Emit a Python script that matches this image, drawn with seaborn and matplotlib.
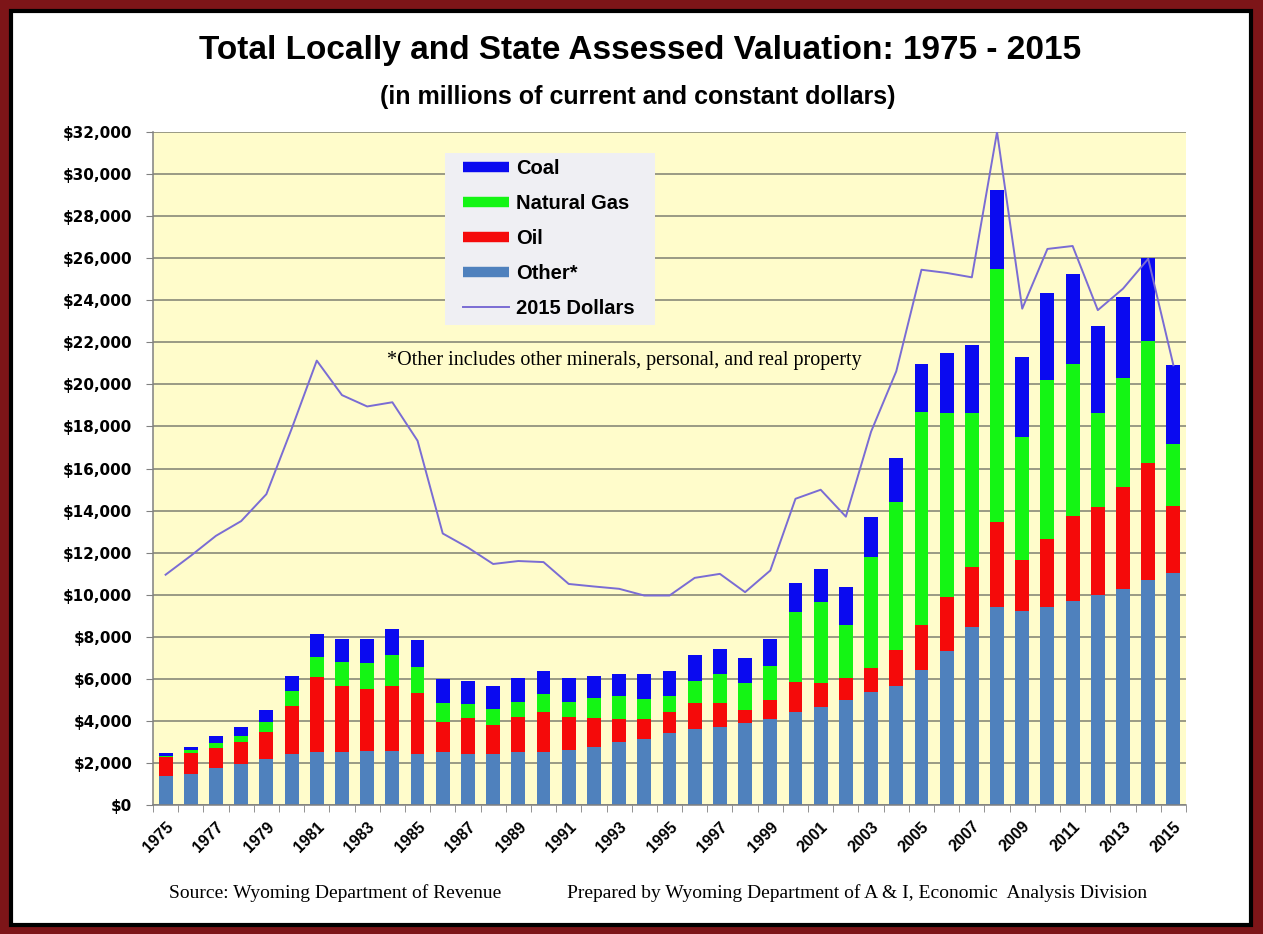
"""
Total locally and state assessed valuation in Wyoming, 1975 - 2015.
Stacked bars by source plus the 2015 constant dollars line.
"""

import matplotlib
matplotlib.use('Agg')

import matplotlib.pyplot as plt
import numpy as np
import pandas as pd
import seaborn as sns
from matplotlib.lines import Line2D
from matplotlib.patches import Rectangle
from matplotlib.ticker import FuncFormatter

# values, millions of dollars
YEARS = list(range(1975, 2016))
OTHER = [1375, 1455, 1755, 1945, 2200, 2435, 2500, 2500, 2560, 2560,
         2435, 2500, 2435, 2435, 2500, 2500, 2610, 2765, 2990, 3115,
         3400, 3605, 3715, 3905, 4110, 4400, 4680, 5000, 5360, 5680,
         6420, 7335, 8460, 9400, 9205, 9400, 9715, 9970, 10280, 10695,
         11040]
OIL = [920, 1040, 965, 1060, 1260, 2290, 3590, 3160, 2940, 3100,
       2875, 1440, 1710, 1390, 1675, 1930, 1565, 1375, 1090, 965,
       1030, 1235, 1120, 600, 900, 1445, 1105, 1060, 1170, 1700,
       2125, 2550, 2870, 4060, 2425, 3250, 4040, 4210, 4850, 5545,
       3190]
NATURAL_GAS = [50, 110, 205, 270, 490, 700, 965, 1140, 1265, 1455,
               1265, 915, 680, 760, 745, 840, 745, 935, 1120, 965,
               775, 1060, 1410, 1310, 1580, 3340, 3890, 2510, 5270, 7015,
               10140, 8760, 7315, 12010, 5870, 7550, 7230, 4465, 5150, 5845,
               2935]
COAL = [150, 160, 350, 410, 555, 725, 1060, 1090, 1120, 1265,
        1250, 1140, 1060, 1075, 1105, 1105, 1105, 1075, 1030, 1185,
        1170, 1235, 1155, 1170, 1280, 1380, 1530, 1785, 1915, 2085,
        2295, 2830, 3230, 3765, 3825, 4145, 4270, 4145, 3880, 3925,
        3745]
DOLLARS_2015 = [10950, 11850, 12800, 13500, 14780, 17880, 21130, 19490, 18950, 19150,
                17320, 12910, 12240, 11460, 11600, 11550, 10510, 10390, 10280, 9960,
                9960, 10800, 10990, 10120, 11150, 14560, 14990, 13710, 17750, 20620,
                25450, 25300, 25090, 32000, 23600, 26440, 26580, 23530, 24550, 25970,
                20910]

SERIES_LABELS = ['Coal', 'Natural Gas', 'Oil', 'Other*']
COLORS = {'Coal': '#0A0AF0', 'Natural Gas': '#14F514', 'Oil': '#F50A0A',
          'Other*': '#4F81BD', 'line': '#7A6CD4'}

W, H = 1263, 934
AX_LEFT, AX_RIGHT, AX_TOP, AX_BOTTOM = 153, 1186, 132, 805


def px_x(x):
    return x / W


def px_y(y):
    return 1 - y / H


def ax_x(x):
    return (x - AX_LEFT) / (AX_RIGHT - AX_LEFT)


def ax_y(y):
    return (AX_BOTTOM - y) / (AX_BOTTOM - AX_TOP)


df = pd.DataFrame({'year': YEARS, 'other': OTHER, 'oil': OIL,
                   'gas': NATURAL_GAS, 'coal': COAL, 'constant': DOLLARS_2015})
# cumulative heights, drawn from the tallest down so each layer covers the next
df['lvl_other'] = df['other']
df['lvl_oil'] = df['lvl_other'] + df['oil']
df['lvl_gas'] = df['lvl_oil'] + df['gas']
df['lvl_coal'] = df['lvl_gas'] + df['coal']

plt.rcParams['font.family'] = ['Liberation Sans', 'DejaVu Sans']

fig = plt.figure(figsize=(W / 100, H / 100), dpi=100)
fig.patch.set_facecolor('#7D1518')
# white card with black rim inside the dark red frame
fig.add_artist(Rectangle((px_x(11), px_y(925)), px_x(1240), (925 - 11) / H,
                         transform=fig.transFigure, facecolor='white',
                         edgecolor='black', linewidth=3, zorder=-1))

ax = fig.add_axes([px_x(AX_LEFT), px_y(AX_BOTTOM),
                   (AX_RIGHT - AX_LEFT) / W, (AX_BOTTOM - AX_TOP) / H])
ax.set_facecolor('#FFFCCB')

for col, name in [('lvl_coal', 'Coal'), ('lvl_gas', 'Natural Gas'),
                  ('lvl_oil', 'Oil'), ('lvl_other', 'Other*')]:
    sns.barplot(data=df, x='year', y=col, native_scale=True, width=0.55,
                color=COLORS[name], saturation=1, errorbar=None,
                linewidth=0, ax=ax, zorder=2)

sns.lineplot(data=df, x='year', y='constant', color=COLORS['line'],
             linewidth=1.4, ax=ax, zorder=3)

# axes
ax.set_xlim(YEARS[0] - 0.5, YEARS[-1] + 0.5)
ax.set_ylim(0, 32000)
ax.set_xlabel('')
ax.set_ylabel('')
ax.set_yticks(np.arange(0, 32001, 2000))
ax.yaxis.set_major_formatter(FuncFormatter(lambda v, _: f'${v:,.0f}'))
ax.yaxis.grid(True, color='#7F7F72', linewidth=1.1)
ax.xaxis.grid(False)
ax.set_axisbelow(True)

ax.set_xticks(YEARS[::2])
ax.set_xticklabels([str(y) for y in YEARS[::2]], rotation=45, ha='right',
                   rotation_mode='anchor', fontweight='bold', fontsize=11.5)
ax.set_xticks(np.arange(YEARS[0] - 0.5, YEARS[-1] + 1), minor=True)
ax.tick_params(axis='x', which='major', length=0, pad=10)
ax.tick_params(axis='x', which='minor', length=5, color='#808080')
ax.tick_params(axis='y', length=5, color='#808080', pad=10)
for lbl in ax.get_yticklabels():
    lbl.set_fontweight('bold')
    lbl.set_fontsize(11)
    lbl.set_family(['DejaVu Sans'])

for side in ['top', 'right']:
    ax.spines[side].set_visible(False)
for side in ['left', 'bottom']:
    ax.spines[side].set_color('#808080')
    ax.spines[side].set_linewidth(1.1)

# legend: grey box drawn separately so its padding can differ per side
ax.add_patch(Rectangle((ax_x(445), ax_y(325)), ax_x(655) - ax_x(445),
                       ax_y(153) - ax_y(325), transform=ax.transAxes,
                       facecolor='#EFEFF3', edgecolor='none', zorder=3.5))
handles = [Line2D([0], [0], color=COLORS[n], linewidth=7.5, solid_capstyle='butt')
           for n in SERIES_LABELS]
handles.append(Line2D([0], [0], color=COLORS['line'], linewidth=1.4))
leg = ax.legend(handles, SERIES_LABELS + ['2015 Dollars'],
                loc='upper left', bbox_to_anchor=(ax_x(463), ax_y(159)),
                borderaxespad=0, borderpad=0, frameon=False,
                prop={'weight': 'bold', 'size': 14.5},
                handlelength=2.3, handletextpad=0.35, labelspacing=0.8)
leg.set_zorder(4)

ax.text(ax_x(624), ax_y(361), '*Other includes other minerals, personal, and real property',
        transform=ax.transAxes, ha='center', va='center',
        family=['Liberation Serif'], fontsize=14.5, zorder=5)

# titles and sources
fig.text(px_x(640), px_y(50), 'Total Locally and State Assessed Valuation: 1975 - 2015',
         ha='center', va='center', fontsize=24, fontweight='bold',
         family=['Liberation Sans Narrow', 'Liberation Sans', 'DejaVu Sans'])
fig.text(px_x(638), px_y(97), '(in millions of current and constant dollars)',
         ha='center', va='center', fontsize=18, fontweight='bold',
         family=['Liberation Sans Narrow', 'Liberation Sans', 'DejaVu Sans'])
fig.text(px_x(169), px_y(893), 'Source: Wyoming Department of Revenue',
         ha='left', va='center', fontsize=14, family=['Liberation Serif'])
fig.text(px_x(567), px_y(893),
         'Prepared by Wyoming Department of A & I, Economic  Analysis Division',
         ha='left', va='center', fontsize=14, family=['Liberation Serif'])

fig.savefig('out.png', dpi=100, facecolor=fig.get_facecolor())
